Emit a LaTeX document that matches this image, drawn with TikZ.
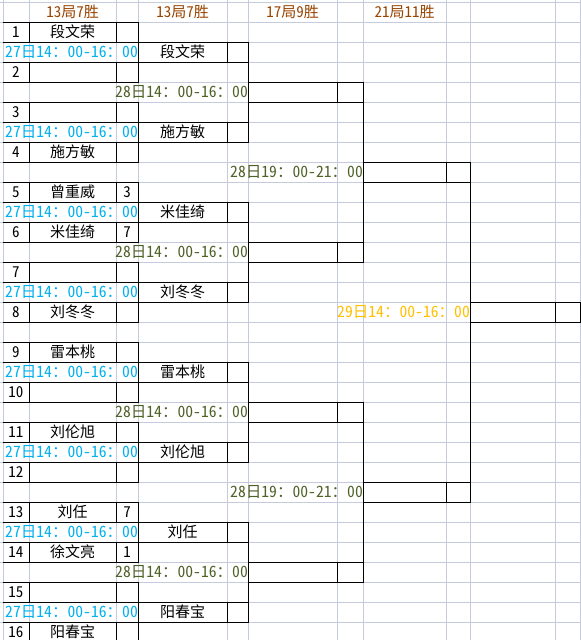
\documentclass[tikz,border=0pt]{standalone}
\usepackage{fontspec}
\setmainfont{Noto Sans CJK SC}[RawFeature=+hwid]
\usetikzlibrary{positioning}

\definecolor{gridgray}{RGB}{196,204,220}
\definecolor{headbrown}{RGB}{153,68,0}
\definecolor{timeblue}{RGB}{0,176,240}
\definecolor{timegreen}{RGB}{79,98,40}
\definecolor{timegold}{RGB}{255,192,0}

\begin{document}
\begin{tikzpicture}[
  x=1pt, y=-1pt,
  font=\fontsize{15}{15}\selectfont,
  gridline/.style={draw=gridgray, line width=1pt},
  bracket/.style={draw=black, line width=1pt},
  cell/.style={anchor=north west, minimum height=20pt, inner sep=0pt, outer sep=0pt},
  numcell/.style={cell, minimum width=26pt},
  namebox/.style={cell, bracket, minimum width=87pt},
  scorebox/.style={cell, bracket, minimum width=22pt},
  rtwo/.style={cell, bracket, minimum width=89pt},
  rtwoside/.style={cell, bracket, minimum width=21pt},
  rthree/.style={cell, bracket, minimum width=89pt},
  rthreeside/.style={cell, bracket, minimum width=26pt},
  rfour/.style={cell, bracket, minimum width=83pt},
  rfourside/.style={cell, bracket, minimum width=24pt},
  final/.style={cell, bracket, minimum width=85pt},
  finalside/.style={cell, bracket, minimum width=25pt},
  headtext/.style={text=headbrown, inner sep=0pt},
  timetext/.style={inner sep=0pt, font=\fontsize{15.6}{16}\selectfont},
  bluetime/.style={timetext, text=timeblue},
  greentime/.style={timetext, text=timegreen},
  goldtime/.style={timetext, text=timegold}
]
\fill[white] (0,0) rectangle (581,640);
\useasboundingbox (0,0) rectangle (581,640);

% sheet grid
\foreach \gx in {3,29,116,138,227,248,337,363,446,470,555,580}
  \draw[gridline] (\gx,0) -- (\gx,640);
\foreach \k in {0,...,31}
  \draw[gridline] (0,{2+20*\k}) -- (581,{2+20*\k});

% column heads
\node[headtext] (h1) at (72.5,12) {13局7胜};
\node[headtext] (h2) at (182.5,12) {13局7胜};
\node[headtext] (h3) at (292.5,12) {17局9胜};
\node[headtext] (h4) at (404.5,12) {21局11胜};

% first round
\foreach \pl/\nm/\pts in {1/段文荣/, 2//, 3//, 4/施方敏/, 5/曾重威/3, 6/米佳绮/7,
    7//, 8/刘冬冬/, 9/雷本桃/, 10//, 11/刘伦旭/, 12//, 13/刘任/7, 14/徐文亮/1,
    15//, 16/阳春宝/} {
  \node[numcell] (n\pl) at (3,{2+20*(2*\pl-1)}) {\pl};
  \node[namebox, right=0pt of n\pl] (p\pl) {\nm};
  \node[scorebox, right=0pt of p\pl] (s\pl) {\pts};
  \draw[bracket] (n\pl.north west) -- (p\pl.north west)
    (n\pl.south west) -- (p\pl.south west);
}
\foreach \a/\b in {1/2,3/4,5/6,7/8,9/10,11/12,13/14,15/16}
  \draw[bracket] (s\a.north east) -- (s\b.south east);

% second round
\foreach \k/\nm in {1/段文荣, 2/施方敏, 3/米佳绮, 4/刘冬冬, 5/雷本桃, 6/刘伦旭,
    7/刘任, 8/阳春宝} {
  \node[rtwo] (qa\k) at (138,{2+20*(4*\k-2)}) {\nm};
  \node[rtwoside, right=0pt of qa\k] (qb\k) {};
  \node[bluetime, left=0pt of qa\k] (tq\k) {27日14：00-16：00};
}
\foreach \a/\b in {1/2,3/4,5/6,7/8}
  \draw[bracket] (qb\a.north east) -- (qb\b.south east);

% third round
\foreach \k in {1,2,3,4} {
  \node[rthree] (ta\k) at (248,{2+20*(8*\k-4)}) {};
  \node[rthreeside, right=0pt of ta\k] (tb\k) {};
  \node[greentime, left=0pt of ta\k] (tt\k) {28日14：00-16：00};
}
\draw[bracket] (tb1.north east) -- (tb2.south east);
\draw[bracket] (tb3.north east) -- (tb4.south east);

% fourth round
\foreach \k in {1,2} {
  \node[rfour] (ua\k) at (363,{2+20*(16*\k-8)}) {};
  \node[rfourside, right=0pt of ua\k] (ub\k) {};
  \node[greentime, left=0pt of ua\k] (tu\k) {28日19：00-21：00};
}
\draw[bracket] (ub1.north east) -- (ub2.south east);

% final
\node[final] (fa) at (470,302) {};
\node[finalside, right=0pt of fa] (fb) {};
\node[goldtime, left=0pt of fa] (tf) {29日14：00-16：00};

\end{tikzpicture}
\end{document}
